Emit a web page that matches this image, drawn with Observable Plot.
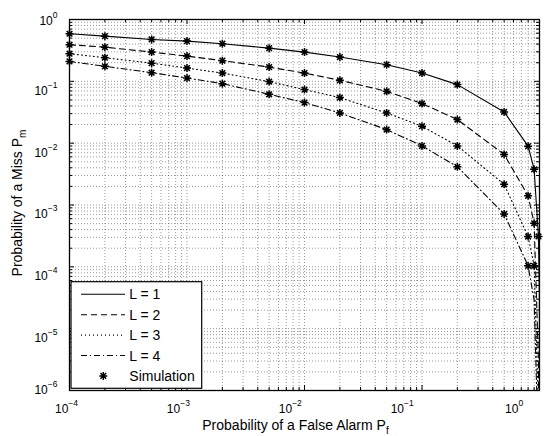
<!DOCTYPE html>
<html><head><meta charset="utf-8">
<script src="https://cdn.jsdelivr.net/npm/d3@7"></script>
<script src="https://cdn.jsdelivr.net/npm/@observablehq/plot@0.6"></script>
<style>
body{margin:0;background:#fff;}
svg{font-family:"Liberation Sans",Arial,Helvetica,sans-serif;}
</style>
</head><body><div id="chart"></div>
<script>
// ---- data ----
const simX  = [1e-4, 2e-4, 5e-4, 1e-3, 2e-3, 5e-3, 0.01, 0.02, 0.05, 0.1, 0.2, 0.5, 0.8, 0.9, 0.98];
const simL1 = [0.588, 0.538, 0.476, 0.447, 0.406, 0.344, 0.297, 0.247, 0.186, 0.136, 0.0885, 0.032, 0.00895, 0.00377, 0.00031];
const simL2 = [0.391, 0.357, 0.297, 0.256, 0.216, 0.170, 0.136, 0.104, 0.069, 0.0437, 0.0241, 0.00657, 0.00141, 0.000507, null];
const simL3 = [0.280, 0.241, 0.197, 0.164, 0.136, 0.099, 0.0735, 0.0546, 0.0308, 0.0188, 0.00904, 0.00216, 0.000309, 0.000104, null];
const simL4 = [0.210, 0.175, 0.138, 0.113, 0.0918, 0.0617, 0.0453, 0.0308, 0.0166, 0.00904, 0.00415, 0.000716, 0.000104, null, null];

const thX  = [1e-4, 2e-4, 5e-4, 1e-3, 2e-3, 5e-3, 0.01, 0.02, 0.05, 0.1, 0.2, 0.5, 0.8, 0.9, 0.98, 0.998, 0.9998, 0.99998];
const thL1 = [0.588, 0.538, 0.476, 0.447, 0.406, 0.344, 0.297, 0.247, 0.186, 0.136, 0.0885, 0.032, 0.00895, 0.00377, 0.00031, 0.00003, 0.000003, 0.0000003];
const thL2 = [0.391, 0.357, 0.297, 0.256, 0.216, 0.170, 0.136, 0.104, 0.069, 0.0437, 0.0241, 0.00657, 0.00141, 0.000507, 0.000003, 0.00000001, null, null];
const thL3 = [0.280, 0.241, 0.197, 0.164, 0.136, 0.099, 0.0735, 0.0546, 0.0308, 0.0188, 0.00904, 0.00216, 0.000309, 0.000104, 0.0000005, null, null, null];
const thL4 = [0.210, 0.175, 0.138, 0.113, 0.0918, 0.0617, 0.0453, 0.0308, 0.0166, 0.00904, 0.00415, 0.000716, 0.000104, 0.000029, 0.0000001, null, null, null];

const seriesNames = ["L = 1", "L = 2", "L = 3", "L = 4"];
const simName = "Simulation";
const xExponents = [-4, -3, -2, -1, 0];
const yExponents = [-6, -5, -4, -3, -2, -1, 0];
const xTitle = "Probability of a False Alarm P";
const xTitleSub = "f";
const yTitle = "Probability of a Miss P";
const yTitleSub = "m";

// ---- helpers ----
const dashes = ["none", "6,4", "1,3", "6,3,1,3"];
const rows = (xs, ys) => xs.map((x, i) => ({x, y: ys[i]})).filter(d => d.y != null);
const mant = [1,2,3,4,5,6,7,8,9];
const gridVals = exps => exps.slice(0, -1).flatMap(e => mant.map(m => m * 10 ** e)).concat([1]);
const xGrid = gridVals(xExponents), yGrid = gridVals(yExponents);
const xMajor = xExponents.map(e => 10 ** e), yMajor = yExponents.map(e => 10 ** e);
const xMinor = xGrid.filter(v => !xMajor.some(m => Math.abs(m - v) < 1e-12));
const yMinor = yGrid.filter(v => !yMajor.some(m => Math.abs(m - v) < 1e-12));

const asterisk = {
  draw(ctx, size) {
    const r = Math.sqrt(size / Math.PI), d = r * Math.SQRT1_2;
    ctx.moveTo(-r, 0); ctx.lineTo(r, 0);
    ctx.moveTo(0, -r); ctx.lineTo(0, r);
    ctx.moveTo(-d, -d); ctx.lineTo(d, d);
    ctx.moveTo(-d, d); ctx.lineTo(d, -d);
  }
};

const W = 548, H = 436, mL = 69, mR = 9, mT = 19, mB = 46;
const fH = H - mT - mB, fW = W - mL - mR;
const gridStyle = {stroke: "#000", strokeWidth: 0.8, strokeOpacity: 0.5, strokeDasharray: "1,2"};
const tickStyle = {stroke: "#000", strokeWidth: 1};

const thSeries = [thL1, thL2, thL3, thL4];
const simSeries = [simL1, simL2, simL3, simL4];

const chart = Plot.plot({
  width: W, height: H,
  marginLeft: mL, marginRight: mR, marginTop: mT, marginBottom: mB,
  x: {type: "log", domain: [1e-4, 1]},
  y: {type: "log", domain: [1e-6, 1]},
  style: {fontFamily: '"Liberation Sans", Arial, sans-serif', fontSize: "12px", color: "#000", background: "#fff"},
  marks: [
    Plot.ruleX(xGrid, gridStyle),
    Plot.ruleY(yGrid, gridStyle),
    // inward ticks on all four sides
    Plot.tickX(xMajor, {...tickStyle, insetTop: fH - 5}),
    Plot.tickX(xMajor, {...tickStyle, insetBottom: fH - 5}),
    Plot.tickX(xMinor, {...tickStyle, insetTop: fH - 3}),
    Plot.tickX(xMinor, {...tickStyle, insetBottom: fH - 3}),
    Plot.tickY(yMajor, {...tickStyle, insetRight: fW - 5}),
    Plot.tickY(yMajor, {...tickStyle, insetLeft: fW - 5}),
    Plot.tickY(yMinor, {...tickStyle, insetRight: fW - 3}),
    Plot.tickY(yMinor, {...tickStyle, insetLeft: fW - 3}),
    ...thSeries.map((s, i) => Plot.line(rows(thX, s), {x: "x", y: "y", stroke: "#000", strokeWidth: 1.1, strokeDasharray: dashes[i], clip: true})),
    ...simSeries.map(s => Plot.dot(rows(simX, s), {x: "x", y: "y", symbol: asterisk, r: 4, fill: "none", stroke: "#000", strokeWidth: 1.5})),
    Plot.frame({stroke: "#000", strokeWidth: 1.3}),
    Plot.axisX({ticks: xMajor, tickSize: 0, tickPadding: 14, tickFormat: d => String(Math.round(Math.log10(d))), label: null}),
    Plot.axisY({ticks: yMajor, tickSize: 0, tickPadding: 12, tickFormat: d => String(Math.round(Math.log10(d))), label: null})
  ]
});
document.getElementById("chart").appendChild(chart);

const svg = d3.select(chart);

// superscript tick labels ("10" + exponent)
function superscript(sel, shift) {
  sel.each(function () {
    const t = d3.select(this);
    const e = +t.text().replace("\u2212", "-");
    t.text(null);
    t.append("tspan").text("10");
    t.append("tspan").attr("dy", -7).attr("font-size", "8.5px").text(String(e).replace("-", "\u2212"));
    const [dx, dy] = shift(e);
    const tr = t.attr("transform") || "";
    t.attr("transform", tr + ` translate(${dx},${dy})`);
  });
}
superscript(svg.selectAll('g[aria-label="x-axis tick label"] text'), e => [-4 - 5.6 * (e + 4) + 1, 0]);
superscript(svg.selectAll('g[aria-label="y-axis tick label"] text'), e => [0, e === 0 ? 1.5 : e === -6 ? 0 : 9.5]);

// axis titles
const xt = svg.append("text").attr("x", 295.5).attr("y", 430).attr("text-anchor", "middle")
  .attr("font-size", "14px").attr("fill", "#000");
xt.append("tspan").text(xTitle);
xt.append("tspan").attr("dy", 4).attr("font-size", "10px").text(xTitleSub);

const yt = svg.append("text").attr("transform", "translate(22,203) rotate(-90)").attr("text-anchor", "middle")
  .attr("font-size", "14px").attr("fill", "#000");
yt.append("tspan").text(yTitle);
yt.append("tspan").attr("dy", 4).attr("font-size", "10px").text(yTitleSub);

// legend
const lg = svg.append("g").attr("text-anchor", "start");
lg.append("rect").attr("x", 71).attr("y", 281.7).attr("width", 130.7).attr("height", 106.6)
  .attr("fill", "#fff").attr("stroke", "#000").attr("stroke-width", 1.2);
const rowY = i => 294.3 + i * 20.4;
seriesNames.forEach((name, i) => {
  lg.append("line").attr("x1", 81).attr("x2", 125).attr("y1", rowY(i)).attr("y2", rowY(i))
    .attr("stroke", "#000").attr("stroke-width", 1.1).attr("stroke-dasharray", dashes[i] === "none" ? null : dashes[i]);
  lg.append("text").attr("x", 129.3).attr("y", rowY(i)).attr("dy", "0.36em").attr("text-anchor", "start")
    .attr("font-size", "14px").attr("fill", "#000").text(name);
});
lg.append("path").attr("transform", `translate(103.3,${rowY(4)})`)
  .attr("d", d3.symbol(asterisk, Math.PI * 4 * 4)())
  .attr("fill", "none").attr("stroke", "#000").attr("stroke-width", 1.5);
lg.append("text").attr("x", 129.3).attr("y", rowY(4)).attr("dy", "0.36em").attr("text-anchor", "start")
  .attr("font-size", "14px").attr("fill", "#000").text(simName);
</script>
</body></html>
